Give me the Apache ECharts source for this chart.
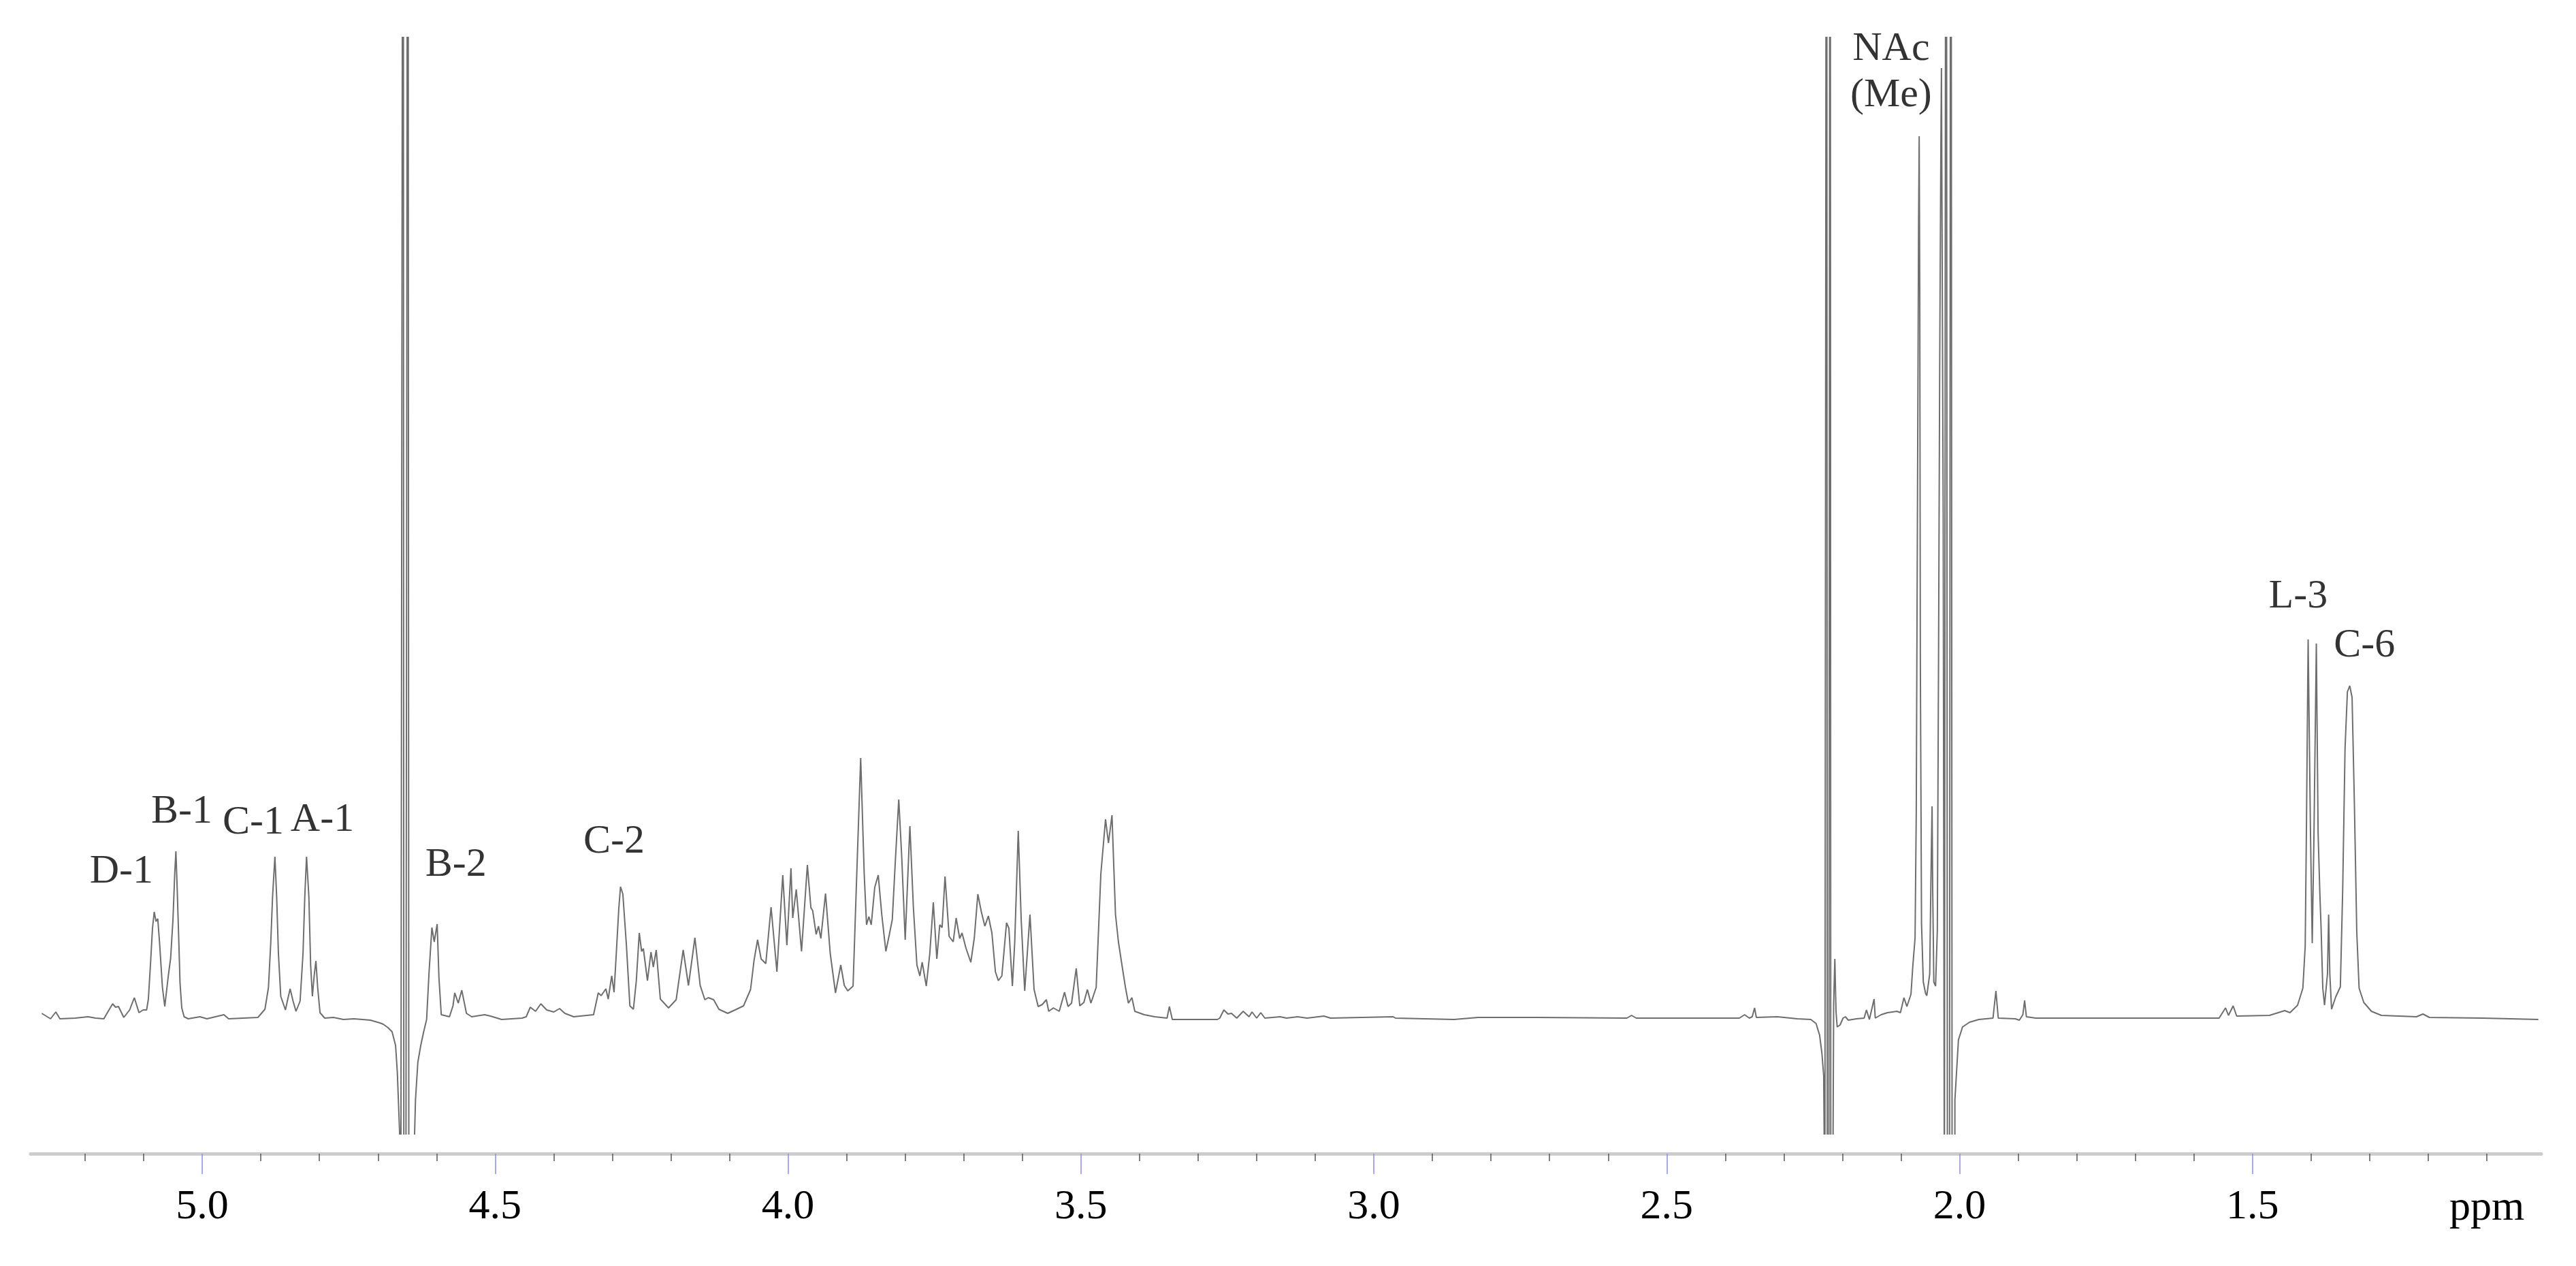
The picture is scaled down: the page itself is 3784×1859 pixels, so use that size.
<!DOCTYPE html>
<html>
<head>
<meta charset="utf-8" />
<title>1H NMR spectrum</title>
<script src="https://cdn.jsdelivr.net/npm/echarts@6/dist/echarts.min.js"></script>
<style>
  html, body { margin: 0; padding: 0; background: #fff; }
  #chart { width: 3784px; height: 1859px; }
</style>
</head>
<body>
<div id="chart"></div>
<script>
// spectrum trace, [ppm, intensity] (intensity: px above baseline)
const anomericRegion = [
  [5.274, 7], [5.259, -1], [5.25, 9], [5.243, -1], [5.217, 0], [5.195, 2], [5.182, 0],
  [5.168, -1], [5.162, 8], [5.153, 21], [5.148, 16], [5.143, 17], [5.134, 1], [5.124, 12],
  [5.116, 30], [5.108, 8], [5.101, 12], [5.095, 12], [5.092, 28], [5.088, 85], [5.085, 132],
  [5.082, 156], [5.079, 142], [5.076, 146], [5.073, 112], [5.068, 45], [5.064, 17],
  [5.058, 62], [5.054, 88], [5.05, 145], [5.047, 212], [5.045, 245], [5.043, 195],
  [5.04, 112], [5.038, 52], [5.035, 15], [5.031, 2], [5.024, -1], [5.004, 2], [4.992, -1],
  [4.963, 5], [4.955, -1], [4.905, 1], [4.893, 13], [4.887, 45], [4.883, 112], [4.88, 178],
  [4.876, 237], [4.873, 178], [4.87, 95], [4.866, 32], [4.858, 12], [4.854, 28], [4.85, 43],
  [4.845, 25], [4.84, 10], [4.833, 25], [4.828, 95], [4.825, 178], [4.822, 237], [4.818, 178],
  [4.815, 78], [4.812, 32], [4.809, 62], [4.806, 84], [4.803, 45], [4.799, 8], [4.791, 0]
];

const waterRegion = [
  [4.776, 1], [4.759, -2], [4.741, -1], [4.713, -3], [4.697, -7], [4.691, -9], [4.683, -14],
  [4.676, -20], [4.67, -40], [4.667, -80], [4.663, -170], [4.661, -300], [4.657, 2500],
  [4.655, -2500], [4.649, 2500], [4.646, -2500], [4.64, -250], [4.636, -120], [4.632, -65],
  [4.627, -40], [4.622, -20], [4.617, -2]
];

const ringRegion = [
  [4.613, 65], [4.608, 133], [4.604, 112], [4.599, 138], [4.596, 60], [4.592, 5], [4.578, 2],
  [4.572, 18], [4.569, 37], [4.563, 22], [4.557, 41], [4.549, 7], [4.54, 2], [4.518, 5],
  [4.508, 3], [4.489, -2], [4.454, 0], [4.447, 2], [4.44, 16], [4.431, 10], [4.422, 21],
  [4.412, 12], [4.4, 9], [4.39, 14], [4.381, 7], [4.366, 2], [4.332, 5], [4.324, 37],
  [4.319, 33], [4.311, 43], [4.307, 28], [4.301, 62], [4.297, 38], [4.293, 98], [4.289, 160],
  [4.286, 193], [4.282, 182], [4.276, 108], [4.27, 18], [4.264, 13], [4.259, 55], [4.254, 125],
  [4.25, 98], [4.247, 102], [4.24, 55], [4.234, 97], [4.23, 75], [4.225, 100], [4.218, 28],
  [4.204, 15], [4.191, 27], [4.179, 100], [4.17, 48], [4.159, 118], [4.15, 48], [4.142, 27],
  [4.136, 30], [4.127, 27], [4.118, 13], [4.103, 7], [4.088, 13], [4.076, 18], [4.064, 42],
  [4.058, 85], [4.052, 115], [4.046, 87], [4.038, 80], [4.029, 163], [4.019, 68], [4.009, 210],
  [4.002, 107], [3.995, 220], [3.992, 147], [3.986, 189], [3.977, 98], [3.967, 225],
  [3.961, 162], [3.958, 158], [3.952, 123], [3.948, 135], [3.944, 117], [3.936, 183],
  [3.928, 95], [3.919, 37], [3.91, 78], [3.904, 48], [3.898, 40], [3.889, 47], [3.884, 178],
  [3.876, 382], [3.87, 212], [3.866, 137], [3.862, 149], [3.858, 137], [3.852, 192],
  [3.846, 210], [3.84, 152], [3.833, 98], [3.827, 123], [3.822, 145], [3.817, 228],
  [3.811, 321], [3.806, 238], [3.8, 115], [3.792, 282], [3.786, 162], [3.78, 78], [3.775, 62],
  [3.771, 82], [3.764, 47], [3.758, 95], [3.752, 170], [3.746, 87], [3.741, 137], [3.737, 133],
  [3.732, 208], [3.725, 120], [3.718, 112], [3.713, 147], [3.707, 117], [3.703, 125],
  [3.696, 102], [3.688, 82], [3.682, 118], [3.676, 182], [3.67, 156], [3.664, 135],
  [3.658, 150], [3.652, 125], [3.646, 68], [3.641, 55], [3.635, 62], [3.627, 140], [3.623, 132],
  [3.617, 47], [3.613, 112], [3.607, 275], [3.602, 145], [3.596, 40], [3.587, 152], [3.58, 42],
  [3.573, 17], [3.566, 20], [3.559, 27], [3.555, 10], [3.547, 15], [3.537, 10], [3.528, 38],
  [3.522, 17], [3.516, 22], [3.508, 73], [3.502, 18], [3.495, 23], [3.489, 42], [3.483, 22],
  [3.474, 45], [3.466, 212], [3.458, 292], [3.453, 257], [3.447, 298], [3.441, 152],
  [3.436, 112], [3.43, 78], [3.424, 45], [3.419, 22], [3.413, 30], [3.408, 10], [3.392, 5],
  [3.374, 2], [3.353, 0], [3.349, 17], [3.344, -2]
];

const baselineRegion = [
  [3.267, -2], [3.263, 0], [3.256, 12], [3.249, 6], [3.243, 7], [3.234, 0], [3.223, 10],
  [3.213, 2], [3.208, 9], [3.2, 0], [3.193, 8], [3.186, 0], [3.16, 2], [3.149, 0], [3.13, 2],
  [3.114, 0], [3.085, 3], [3.074, 0], [2.967, 2], [2.963, 0], [2.863, -2], [2.822, 1],
  [2.722, 1], [2.568, 0], [2.56, 4], [2.552, 0], [2.376, 0], [2.367, 5], [2.359, 0],
  [2.354, 2], [2.35, 15], [2.347, 1], [2.311, 2], [2.277, -1], [2.254, -2], [2.245, -8]
];

const acetylRegion = [
  [2.239, -25], [2.235, -52], [2.232, -85], [2.23, -300], [2.227, 2500], [2.225, -2500],
  [2.221, 2500], [2.219, -2500], [2.216, -170], [2.215, 20], [2.213, 87], [2.211, 10],
  [2.209, -13], [2.204, -10], [2.199, 0], [2.195, 2], [2.19, -3], [2.176, -1], [2.163, 0],
  [2.159, 12], [2.154, -2], [2.146, 28], [2.144, 0], [2.134, 5], [2.123, 8], [2.107, 10],
  [2.101, 8], [2.095, 30], [2.09, 17], [2.083, 35], [2.08, 75], [2.076, 118], [2.074, 302],
  [2.072, 736], [2.07, 1170], [2.069, 1295], [2.068, 1061], [2.067, 519], [2.065, 139],
  [2.062, 53], [2.058, 36], [2.056, 33], [2.051, 65], [2.049, 200], [2.047, 311], [2.046, 194],
  [2.044, 53], [2.041, 47], [2.038, 130], [2.036, 519], [2.034, 953], [2.032, 1278],
  [2.031, 1395], [2.03, 1170], [2.028, 736], [2.026, -300], [2.023, 2500], [2.019, -2500],
  [2.015, 2500], [2.011, -2500], [2.008, -120], [2.002, -32], [1.995, -13], [1.983, -6],
  [1.967, -2], [1.943, 0], [1.938, 40], [1.934, 0], [1.905, -1], [1.898, -3], [1.892, 5],
  [1.889, 26], [1.886, 2], [1.87, 0]
];

const methylRegion = [
  [1.743, 0], [1.626, 0], [1.557, 0], [1.546, 15], [1.541, 4], [1.533, 18], [1.527, 3],
  [1.471, 4], [1.445, 11], [1.436, 8], [1.423, 19], [1.414, 44], [1.41, 106], [1.408, 272],
  [1.405, 556], [1.401, 272], [1.398, 110], [1.395, 272], [1.391, 550], [1.388, 272],
  [1.385, 183], [1.383, 135], [1.38, 44], [1.377, 19], [1.372, 65], [1.37, 152], [1.368, 65],
  [1.365, 13], [1.358, 31], [1.35, 46], [1.346, 189], [1.342, 396], [1.338, 479], [1.334, 488],
  [1.33, 471], [1.326, 313], [1.322, 127], [1.318, 44], [1.31, 23], [1.297, 10], [1.28, 4],
  [1.22, 2], [1.209, 6], [1.198, 1], [1.107, 0], [1.012, -2]
];

// peak assignments: label text and where it sits (ppm, intensity)
const peakNames = ["D-1", "B-1", "C-1", "A-1", "B-2", "C-2", "NAc", "(Me)", "L-3", "C-6"];
const peakPpm = [5.138, 5.035, 4.913, 4.795, 4.567, 4.297, 2.117, 2.117, 1.422, 1.309];
const peakHeight = [215, 303, 287, 291, 225, 259, 1423, 1355, 619, 547];

// axis ticks
const majorTicks = [5.0, 4.5, 4.0, 3.5, 3.0, 2.5, 2.0, 1.5];
const minorTicks = [
  5.2, 5.1, 4.9, 4.8, 4.7, 4.6, 4.4, 4.3, 4.2, 4.1, 3.9, 3.8, 3.7, 3.6,
  3.4, 3.3, 3.2, 3.1, 2.9, 2.8, 2.7, 2.6, 2.4, 2.3, 2.2, 2.1,
  1.9, 1.8, 1.7, 1.6, 1.4, 1.3, 1.2, 1.1
];

const spectrum = [].concat(anomericRegion, waterRegion, ringRegion, baselineRegion, acetylRegion, methylRegion);
const labels = peakNames.map((name, i) => ({ name: name, value: [peakPpm[i], peakHeight[i]] }));

const chart = echarts.init(document.getElementById("chart"));

const xMin = 1.007;
const xMax = 5.293;

const option = {
  animation: false,
  backgroundColor: "#ffffff",
  grid: {
    left: 45,
    right: 51,
    top: 55,
    bottom: 194,
  },
  xAxis: [
    {
      type: "value",
      min: xMin,
      max: xMax,
      inverse: true,
      position: "bottom",
      offset: 29,
      axisLine: { show: true, onZero: false, lineStyle: { color: "#cccccc", width: 5 } },
      axisTick: {
        show: true,
        customValues: majorTicks,
        length: 30,
        lineStyle: { color: "#8c8cf2", width: 1.5 },
      },
      axisLabel: {
        show: true,
        customValues: majorTicks,
        formatter: (v) => v.toFixed(1),
        margin: 48,
        color: "#000000",
        fontFamily: "Liberation Serif",
        fontSize: 62,
      },
      splitLine: { show: false },
    },
    {
      // minor ticks only
      type: "value",
      min: xMin,
      max: xMax,
      inverse: true,
      position: "bottom",
      offset: 29,
      axisLine: { show: false, onZero: false },
      axisTick: {
        show: true,
        customValues: minorTicks,
        length: 11,
        lineStyle: { color: "#555555", width: 1.5 },
      },
      axisLabel: { show: false },
      splitLine: { show: false },
    },
  ],
  yAxis: {
    type: "value",
    min: -170,
    max: 1440,
    show: false,
  },
  graphic: [
    {
      type: "text",
      style: {
        text: "ppm",
        x: 3653,
        y: 1775,
        align: "center",
        verticalAlign: "middle",
        textAlign: "center",
        textVerticalAlign: "middle",
        font: "62px 'Liberation Serif'",
        fill: "#000000",
      },
    },
  ],
  series: [
    {
      type: "line",
      xAxisIndex: 0,
      data: spectrum,
      showSymbol: false,
      symbol: "none",
      clip: true,
      lineStyle: { color: "#6e6e6e", width: 2 },
      silent: true,
    },
    {
      type: "scatter",
      xAxisIndex: 0,
      data: labels,
      symbolSize: 1,
      itemStyle: { color: "transparent" },
      label: {
        show: true,
        position: "inside",
        formatter: (p) => p.data.name,
        color: "#000000",
        fontFamily: "Liberation Serif",
        fontSize: 60,
      },
      silent: true,
    },
  ],
};

chart.setOption(option);
</script>
</body>
</html>
